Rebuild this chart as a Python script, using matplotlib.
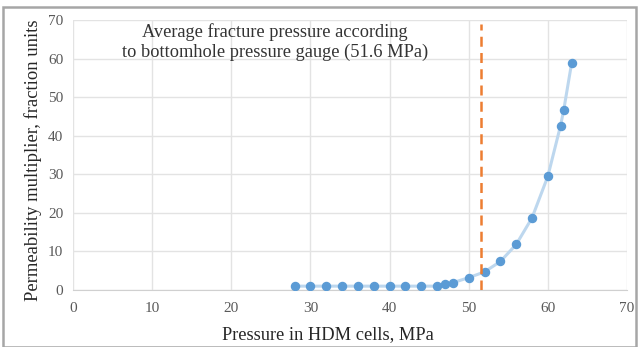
import matplotlib.pyplot as plt
from matplotlib.patches import Rectangle

# --- Data ---
pressure = [28, 30, 32, 34, 36, 38, 40, 42, 44, 46, 47, 48, 50, 52, 54, 56, 58, 60, 61.6, 62, 63]
multiplier = [1.0, 1.0, 1.0, 1.0, 1.0, 1.0, 1.0, 1.0, 1.0, 1.0, 1.5, 1.9, 3.2, 4.7, 7.4, 11.8,
              18.7, 29.5, 42.6, 46.6, 58.8]
frac_pressure = 51.6

plt.rcParams['font.family'] = ['Liberation Serif', 'DejaVu Serif']

fig = plt.figure(figsize=(6.39, 3.47), dpi=100)
ax = fig.add_axes([73 / 639, 1 - 290 / 347, (627 - 73) / 639, (290 - 20) / 347])

# outer frame
fig.patches.append(Rectangle((3 / 639, 0), 633 / 639, 1 - 7 / 347, transform=fig.transFigure,
                             fill=False, edgecolor="#A6A6A6", linewidth=1.8))

ax.plot(pressure, multiplier, color="#BDD7EE", linewidth=2.2, zorder=2)
ax.plot(pressure, multiplier, linestyle="none", marker="o", markersize=5.8,
        color="#5B9BD5", zorder=3)
ax.plot([frac_pressure, frac_pressure], [0, 69], color="#ED7D31", linestyle=(0, (4, 2.5)),
        linewidth=1.8, zorder=4)

ax.text(25.5, 69.3, "Average fracture pressure according\nto bottomhole pressure gauge (51.6 MPa)",
        ha="center", va="top", fontsize=13.2, color="#333333", linespacing=1.2)

ax.set_xlim(0, 70)
ax.set_ylim(0, 70)
ax.set_xticks(range(0, 71, 10))
ax.set_yticks(range(0, 71, 10))
ax.grid(True, color="#E3E3E3", linewidth=1)
ax.set_axisbelow(True)
for side in ["top", "right", "left"]:
    ax.spines[side].set_visible(False)
ax.spines["bottom"].set_color("#D0D0D0")
ax.tick_params(length=0, labelsize=11, colors="#595959")
ax.tick_params(axis="x", pad=9)
ax.tick_params(axis="y", pad=7)

ax.set_xlabel("Pressure in HDM cells, MPa", fontsize=13.2, color="#262626", labelpad=8)
ax.xaxis.set_label_coords((328 - 73) / (627 - 73), -0.135)
ax.set_ylabel("Permeability multiplier, fraction units", fontsize=13.4, color="#262626")
ax.yaxis.set_label_coords(-(73 - 42) / (627 - 73), 0.48)

fig.savefig("out.png", dpi=100)
